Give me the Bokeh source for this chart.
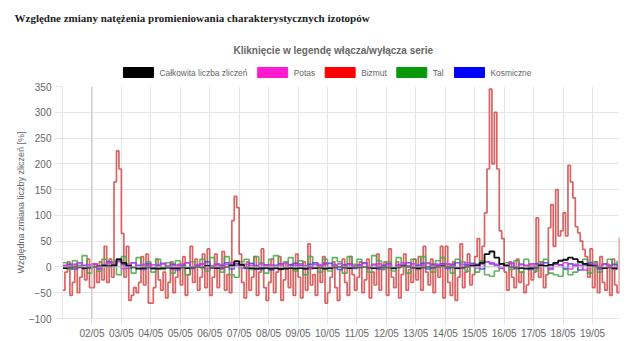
from bokeh.plotting import figure
from bokeh.layouts import column
from bokeh.models import Span, FixedTicker, Range1d, Title
from bokeh.core.properties import value
from bokeh.embed import file_html
from bokeh.resources import INLINE

# ---------------- data ----------------
title_text = "Względne zmiany natężenia promieniowania charakterystycznych izotopów"
subtitle_text = "Kliknięcie w legendę włącza/wyłącza serie"
y_label = "Względna zmiana liczby zliczeń [%]"

day_ticks = [1, 2, 3, 4, 5, 6, 7, 8, 9, 10, 11, 12, 13, 14, 15, 16, 17, 18]
day_labels = ["02/05", "03/05", "04/05", "05/05", "06/05", "07/05", "08/05", "09/05", "10/05",
              "11/05", "12/05", "13/05", "14/05", "15/05", "16/05", "17/05", "18/05", "19/05"]
y_ticks = [-100, -50, 0, 50, 100, 150, 200, 250, 300, 350]

names = ["Całkowita liczba zliczeń", "Potas", "Bizmut", "Tal", "Kosmiczne"]
legend_colors = ["#000000", "#ff19d1", "#ff0000", "#0a990a", "#0000ff"]

# Bizmut, 2-hour steps from 01/05 00:00
bizmut = [
    -45, -10, 10, -55, -30, 5, -50, -20, -5, -25, 15, -40,
    -40, 5, -30, 10, -25, 40, -30, 15, -20, 165, 225, 190,
    65, -20, 40, -65, -55, -40, -50, -30, 20, -35, 25, -70,
    -70, -40, 15, -25, -45, -10, -60, -30, 10, -50, -20, 5,
    -35, 20, -55, -15, 40, -30, 15, -45, -20, 25, -40, 35,
    -55, -20, 25, -40, -5, 30, -45, -15, -50, 90, 137, 115,
    25, -30, -60, 10, -45, -20, 20, -55, -10, 35, -40, -65,
    -30, 15, -50, -10, 20, -65, -25, 10, -40, 5, -55, 25,
    -20, -60, 10, -45, 45, -35, -15, -55, 5, -30, 20, -70,
    -50, -20, 10, -40, -65, -5, 15, -30, -55, 20, -15, -45,
    -20, 10, -50, -25, 15, -60, -10, -35, 25, -45, -5, 10,
    -55, 35, -20, -40, 10, -60, -15, 25, -45, -5, -30, 15,
    -25, 20, -45, 40, -10, -35, 15, -50, 5, -20, 40, -60,
    40, -30, -55, 10, -65, -20, 45, -40, -10, 25, -35, -15,
    20, 55, 10, 40, 105, 190, 345, 200, 300, 190, 70, 55,
    -10, -45, 10, -20, -40, 15, -30, -10, -50, -35, 5, -25,
    -10, 95, -20, 10, -40, -15, 76, 121, 40, 150, 60, 70,
    105, 60, 197, 165, 134, 78, 66, 50, 34, 20, -20, 35,
    -40, 10, -50, 20, -30, -45, 5, -55, 15, -35, -50, 57,
]

# other series, 4-hour steps from 01/05 00:00
calkowita = [
    -2, -1, 0, -1, -2, -1,
    0, 1, 2, 1, 3, 15,
    8, 2, -1, -3, -2, -1,
    -2, -3, -2, -1, -2, -2,
    -1, -2, -1, 0, -1, 2,
    -1, -2, -1, 0, 3, 11,
    4, -1, -2, -3, -2, -2,
    -3, -2, -4, -3, -2, -3,
    -2, -3, -1, -2, -1, -3,
    -2, -1, 0, -1, -2, -1,
    -1, 0, -1, -2, -1, 0,
    -1, -2, -1, 1, 0, -1,
    -2, -1, 0, -1, 0, 1,
    0, -1, -2, -1, 0, 2,
    3, 8, 25, 30, 18, 6,
    2, 0, -1, -2, -3, -2,
    -1, 3, 2, 4, 8, 12,
    14, 18, 15, 10, 6, 3,
    1, -1, -2, -1, -2, -1,
]
tal = [
    8, -5, 12, 3, 22, -12,
    5, -8, 15, 2, 10, -15,
    20, 5, -12, 18, 2, 10,
    -10, 15, -5, 8, -12, 12,
    5, -15, 10, 0, 15, -8,
    18, 5, -10, 20, -15, -20,
    10, 15, -5, 20, 8, -12,
    15, 22, -5, 10, 18, -8,
    12, -15, 20, 5, -10, 15,
    -8, 18, 10, -12, 20, 5,
    15, 8, -10, 22, 12, -5,
    10, -8, 18, 5, -12, 15,
    -5, 20, 8, -10, 12, 18,
    5, -12, 15, 10, -8, 5,
    -10, 12, -15, -18, -8, 5,
    8, -5, 12, -10, 15, 0,
    -8, 10, 15, -12, -15, -18,
    -5, -15, -10, 8, 15, -12,
    10, -10, 5, 15, -5, 12,
]
potas = [
    3, -2, 5, 8, -3, 4,
    6, -4, 2, 8, 5, 10,
    -3, 4, 8, -2, 5, 2,
    4, -3, 6, 2, -5, 3,
    5, 8, -2, 4, 6, -3,
    2, 6, -4, 5, 8, 3,
    -2, 5, 3, -4, 6, 2,
    4, -3, 5, 7, -2, 3,
    6, 2, -4, 5, 3, 8,
    -3, 4, 6, -2, 5, 2,
    3, 7, -3, 4, 6, -2,
    5, -2, 4, 8, 2, 6,
    -4, 3, 7, -2, 5, 3,
    6, 2, -3, 5, 8, 4,
    -2, 6, 10, 8, 5, -3,
    4, 7, -2, 5, 3, 6,
    -3, 5, 2, -5, 6, 4,
    8, -4, 5, 3, -6, 2,
    5, -3, 6, 2, -4, 3,
]
kosmiczne = [
    2, 5, -4, 8, 3, -2,
    6, -3, 4, 10, 2, 12,
    5, -2, 8, 3, -5, 6,
    -4, 3, 7, -2, 5, -6,
    4, 8, -3, 2, 6, 10,
    -2, 5, 3, 8, -4, 6,
    5, -3, 7, 2, -5, 4,
    -6, 3, 6, -2, 4, 7,
    3, -4, 5, 8, -2, 6,
    7, 2, -5, 4, 6, -3,
    4, 8, -2, 5, -4, 3,
    6, -3, 4, 2, 8, -2,
    3, 7, -4, 5, 2, 6,
    -3, 5, 8, -2, 4, 7,
    5, -4, 10, 6, 3, -2,
    4, 7, -3, 5, 2, -5,
    6, 3, 8, -2, 5, 4,
    -3, 6, 2, -6, 4, 8,
    3, -4, 6, 2, 5, -2,
]

x_biz = [i * 2 / 24 for i in range(len(bizmut))]
x_oth = [i * 4 / 24 for i in range(len(calkowita))]

# ---------------- style ----------------
FONT = "Liberation Sans"
GRID = "#e5e5e5"
W = 640
HEAD_H = 80
MAIN_H = 341 - HEAD_H
F_LEFT, F_RIGHT = 62, 619          # plot frame edges (shared by both figures)
HEAD_FRAME_TOP = 62                # header strip that holds the legend

# ---------------- header (title, subtitle, legend) ----------------
FH = HEAD_H - HEAD_FRAME_TOP
head = figure(width=W, height=HEAD_H, x_range=Range1d(F_LEFT, F_RIGHT), y_range=Range1d(0, FH),
              x_axis_type=None, y_axis_type=None, output_backend="svg", toolbar_location=None,
              min_border_left=F_LEFT, min_border_right=W - F_RIGHT,
              min_border_top=HEAD_FRAME_TOP, min_border_bottom=0, title=None)
head.grid.visible = False
head.outline_line_color = None

head.add_layout(Title(text=subtitle_text, align="left", offset=233 - F_LEFT,
                      standoff=14, text_font=FONT, text_font_style="bold", text_font_size="10px",
                      text_color="#666666"), "above")
head.add_layout(Title(text=title_text, align="left", offset=14 - F_LEFT, standoff=19,
                      vertical_align="top",
                      text_font="Liberation Serif", text_font_style="bold", text_font_size="11px",
                      text_color="#222222"), "above")

# Arial / Liberation Sans advance widths (per 1000 em) to lay out the legend like Chart.js
_aw = {"C": 722, "a": 556, "ł": 222, "k": 500, "o": 556, "w": 722, "i": 222, "t": 278, " ": 278,
       "l": 222, "c": 500, "z": 500, "b": 556, "e": 556, "ń": 556, "P": 667, "s": 500, "B": 667,
       "m": 833, "u": 556, "T": 611, "K": 667, "n": 556}
LEG_FS = 8.4
BOX_W, BOX_H, GAP_TXT, GAP_ITEM = 30, 10, 6, 10
tw = [sum(_aw.get(ch, 556) for ch in n) * LEG_FS / 1000 for n in names]
total = sum(BOX_W + GAP_TXT + t for t in tw) + GAP_ITEM * (len(names) - 1)
cx = 327 - total / 2
box_x, txt_x = [], []
for t in tw:
    box_x.append(cx + BOX_W / 2)
    txt_x.append(cx + BOX_W + GAP_TXT)
    cx += BOX_W + GAP_TXT + t + GAP_ITEM
LEG_Y = HEAD_H - 72                # legend row centre, measured up from header bottom
head.rect(x=box_x, y=[LEG_Y] * len(names), width=BOX_W, height=BOX_H,
          width_units="screen", height_units="screen",
          fill_color=legend_colors, line_color=legend_colors)
head.text(x=txt_x, y=[LEG_Y] * len(names), text=names, text_font=value(FONT),
          text_font_size=f"{LEG_FS}px", text_color="#666666", text_baseline="middle",
          text_align="left")

# ---------------- main chart ----------------
p = figure(width=W, height=MAIN_H, x_range=(0, x_biz[-1]), y_range=(-100, 350),
           title=None, output_backend="svg", toolbar_location=None,
           min_border_left=F_LEFT, min_border_right=W - F_RIGHT, min_border_top=6,
           min_border_bottom=22)
p.outline_line_color = None

p.xaxis.ticker = FixedTicker(ticks=day_ticks)
p.xaxis.major_label_overrides = {t: l for t, l in zip(day_ticks, day_labels)}
p.yaxis.ticker = FixedTicker(ticks=y_ticks)
p.xgrid.ticker = FixedTicker(ticks=day_ticks)
p.ygrid.ticker = FixedTicker(ticks=y_ticks)
for g in (p.xgrid, p.ygrid):
    g.grid_line_color = GRID
    g.grid_line_width = 1

for ax in (p.xaxis, p.yaxis):
    ax.axis_line_color = GRID
    ax.major_tick_line_color = GRID
    ax.minor_tick_line_color = None
    ax.major_tick_in = 0
    ax.major_label_text_font = FONT
    ax.major_label_text_font_size = "10px"
    ax.major_label_text_color = "#666666"
p.xaxis.major_tick_out = 6
p.xaxis.major_label_standoff = 3
p.yaxis.major_tick_out = 8
p.yaxis.major_label_standoff = 3
p.yaxis.axis_label = y_label
p.yaxis.axis_label_text_font = FONT
p.yaxis.axis_label_text_font_size = "9px"
p.yaxis.axis_label_text_font_style = "normal"
p.yaxis.axis_label_text_color = "#666666"
p.yaxis.axis_label_standoff = 0

# Chart.js-style zero lines
p.add_layout(Span(location=day_ticks[0], dimension="height", line_color="#bfbfbf", line_width=1))
p.add_layout(Span(location=0, dimension="width", line_color="#bfbfbf", line_width=1))

p.step(x_biz, bizmut, mode="after", line_color="#d65252", line_width=1.7, line_alpha=0.9)
p.step(x_oth, tal, mode="after", line_color="#45a845", line_width=1.6, line_alpha=0.85)
p.step(x_oth, kosmiczne, mode="after", line_color="#4848e0", line_width=1.6, line_alpha=0.85)
p.step(x_oth, potas, mode="after", line_color="#d23ee0", line_width=1.6, line_alpha=0.9)
p.step(x_oth, calkowita, mode="after", line_color="#111111", line_width=1.8)

layout = column(head, p, spacing=0)
open("out.html", "w").write(file_html(layout, INLINE))
